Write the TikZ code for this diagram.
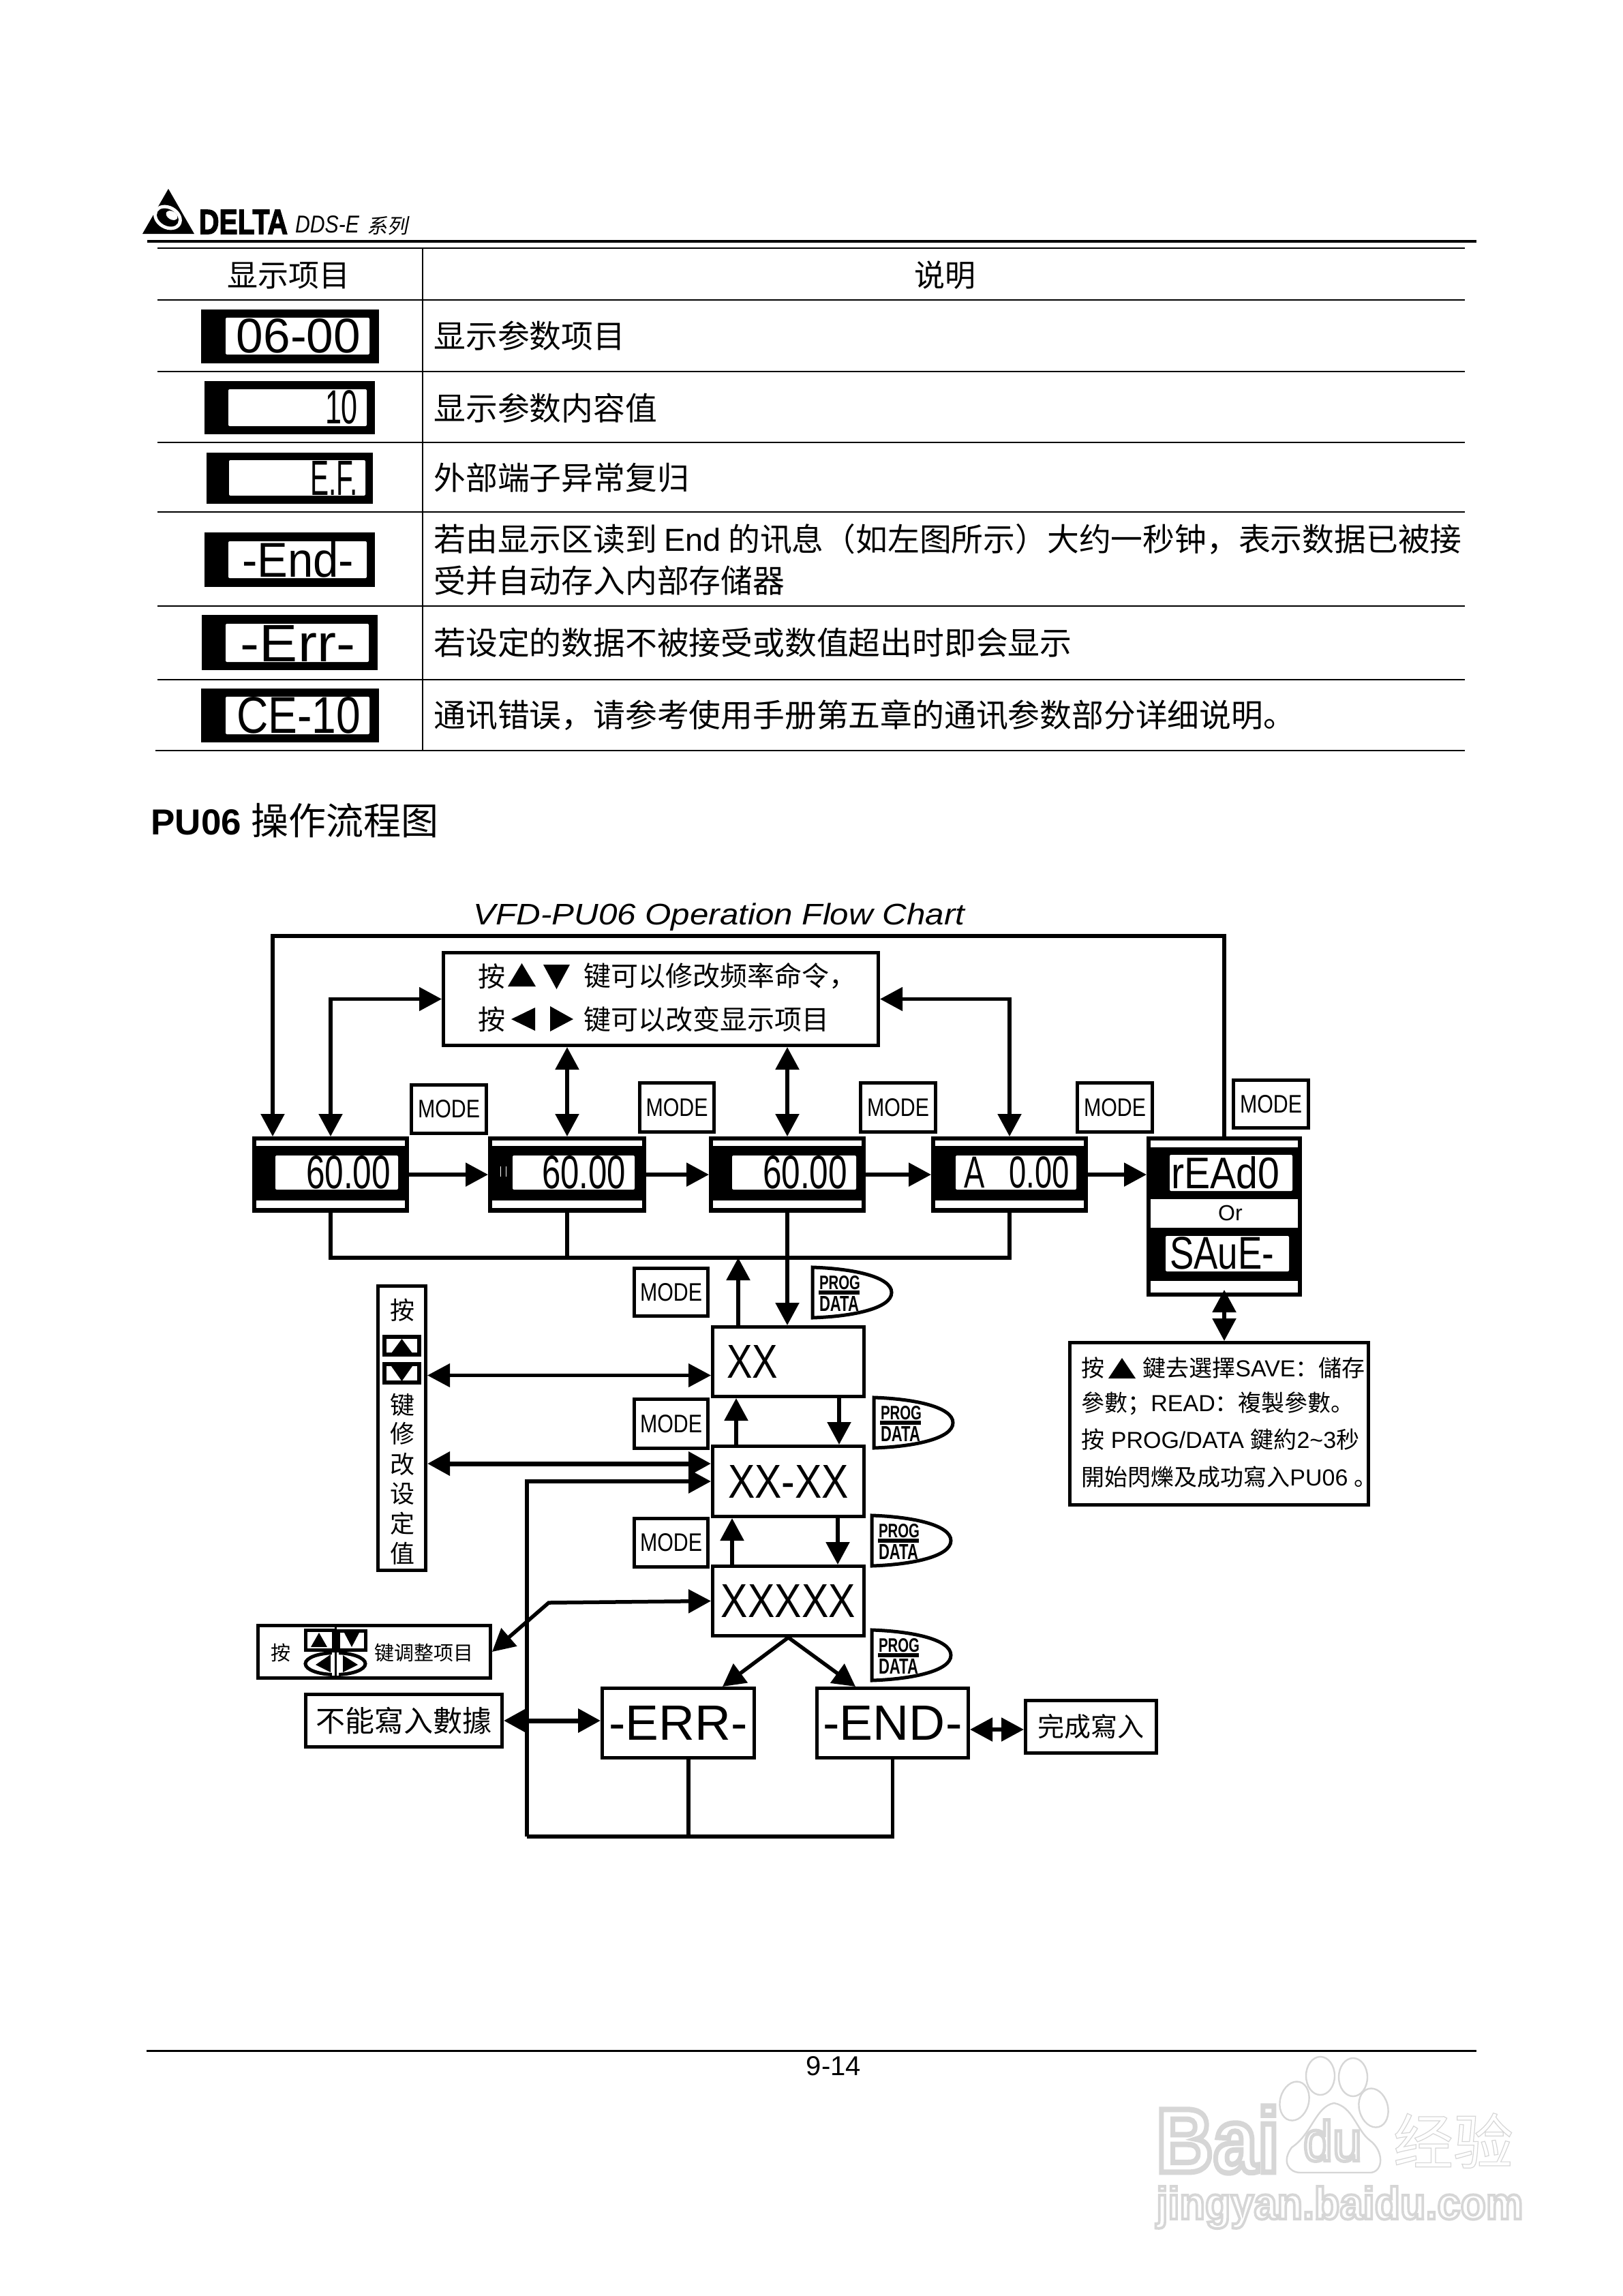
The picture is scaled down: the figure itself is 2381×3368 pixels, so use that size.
\documentclass[tikz,border=0pt]{standalone}
\usepackage{fontspec}
\setmainfont{Liberation Sans}
\newfontfamily\cjk{Noto Sans CJK SC}
\newfontfamily\cjki[FakeSlant=0.2]{Noto Sans CJK SC}
\usetikzlibrary{arrows.meta,calc}
\newcommand\fs[1]{\fontsize{#1}{#1}\selectfont}
\newcommand\cj[1]{{\mdseries\cjk #1}}
% framed box from pixel corners
\newcommand\bxx[7][]{\node[draw=black,line width=2.5pt,fill=white,inner sep=0pt,
  minimum width={(#5-#3-3)*.5pt},minimum height={(#6-#4-3)*.5pt},#1] (#2) at ({(#3+#5)/2},{(#4+#6)/2}) {#7};}
% text forced into a pixel rectangle
\newcommand\rtxt[6]{\pgfmathsetmacro\rw{(#4-#2)*.5}\pgfmathsetmacro\rh{(#5-#3)*.5}%
  \node[inner sep=0pt] (#1) at ({(#2+#4)/2},{(#3+#5)/2}) {\resizebox{\rw pt}{\rh pt}{#6}};}
\newcommand\modebox[5]{\bxx{#1}{#2}{#3}{#4}{#5}{\resizebox{45.5pt}{13pt}{MODE}}}
% black panel with white LCD window
\newcommand\lcdpanel[9]{\bxx[fill=black]{#1}{#2}{#3}{#4}{#5}{}
  \fill[white,rounded corners=1pt] (#6,#7) rectangle (#8,#9);}
% display with top and bottom strip
\newcommand\strips[3]{\fill[white] ([xshift=3pt,yshift=-3pt]#1.north west) rectangle ([xshift=-3pt,yshift=-#2pt]#1.north east);
  \fill[white] ([xshift=3pt,yshift=3.5pt]#1.south west) rectangle ([xshift=-3pt,yshift=#3pt]#1.south east);}
\newcommand\progkey[3]{\begin{scope}[shift={(#2,#3)}]
  \draw[line width=2.5pt,fill=white] (0,0) .. controls (60,2) and (116,14) .. (116,37) .. controls (116,60) and (60,72) .. (0,74) -- cycle;
  \draw[line width=3pt] (9,37) -- (69,37);
  \rtxt{#1a}{10}{13}{70}{33}{\bfseries PROG}
  \rtxt{#1b}{10}{42}{68}{64}{\bfseries DATA}
\end{scope}}
\newcommand\wm[1]{\special{pdf:code 1 Tr 0.84 0.84 0.84 RG 0.6 w}#1\special{pdf:code 0 Tr 0 0 0 RG}}
\tikzset{
  ar/.style={line width=2.75pt,-{Triangle[length=16.5pt,width=17pt]}},
  dar/.style={line width=2.75pt,{Triangle[length=16.5pt,width=17pt]}-{Triangle[length=16.5pt,width=17pt]}},
  ln/.style={line width=2.75pt},
  tbl/.style={line width=1pt},
  hdr/.style={inner sep=0pt,font=\cjk\fs{22.5}},
  cell/.style={anchor=west,inner sep=0pt,font=\cjk\fs{23.4}},
  flow/.style={anchor=west,inner sep=0pt,font=\cjk\fs{20}},
  note/.style={anchor=west,inner sep=0pt,font=\fs{17}},
  vert/.style={inner sep=0pt,font=\cjk\fs{18}},
}
\begin{document}
\begin{tikzpicture}[x=.5pt,y=-.5pt]
\useasboundingbox (0,0) rectangle (2381,3368);
\fill[white] (0,0) rectangle (2381,3368);
% ---------- header
\fill[black] (209,343) -- (247,277) -- (285,343) -- cycle;
\fill[white,rotate around={-30:(246,319)}] (246,319) ellipse (22 and 17);
\fill[black,rotate around={-30:(246,319)}] (246,319) ellipse (17 and 12);
\fill[white,rotate around={-30:(252,316)}] (252,316) ellipse (9 and 6);
\rtxt{logo}{292}{308}{422}{343}{\bfseries\addfontfeature{FakeBold=3}DELTA}
\rtxt{series}{433}{317}{527}{342}{\itshape DDS-E}
\node[anchor=base west,inner sep=0pt] (seriescn) at (538,342) {\fs{15}\cjki 系列};
\draw[line width=2pt] (216,354) -- (2166,354);
% ---------- table
\draw[tbl] (231,364) -- (2149,364);
\draw[tbl] (231,440) -- (2149,440);
\draw[tbl] (231,545) -- (2149,545);
\draw[tbl] (231,649) -- (2149,649);
\draw[tbl] (231,751) -- (2149,751);
\draw[tbl] (231,889) -- (2149,889);
\draw[tbl] (231,997) -- (2149,997);
\draw[tbl] (228,1101) -- (2149,1101);
\draw[tbl] (620,364) -- (620,1101);
\node[hdr] (hdra) at (423,404) {显示项目};
\node[hdr] (hdrb) at (1386,404) {说明};
\lcdpanel{la}{296}{455}{555}{532}{331}{466}{542}{520}
\rtxt{lat}{347}{468}{529}{518}{06-00}
\lcdpanel{lb}{301}{560}{549}{636}{335}{571}{538}{625}
\rtxt{lbt}{477}{573}{525}{622}{10}
\lcdpanel{lc}{304}{665}{546}{738}{336}{675}{536}{727}
\rtxt{lct}{455}{676}{525}{726}{E.F.}
\lcdpanel{ld}{301}{782}{549}{860}{335}{794}{538}{848}
\rtxt{ldt}{355}{795}{519}{847}{-End-}
\lcdpanel{le}{297}{903}{553}{982}{331}{915}{541}{971}
\rtxt{let}{353}{917}{521}{970}{-Err-}
\lcdpanel{lf}{296}{1011}{555}{1088}{331}{1022}{542}{1077}
\rtxt{lft}{347}{1023}{529}{1076}{CE-10}
\node[cell] (ra) at (636,493) {显示参数项目};
\node[cell] (rb) at (636,599) {显示参数内容值};
\node[cell] (rc) at (636,701) {外部端子异常复归};
\node[cell] (rd) at (636,791) {若由显示区读到 {\rmfamily End} 的讯息（如左图所示）大约一秒钟，表示数据已被接};
\node[cell] (re) at (636,852) {受并自动存入内部存储器};
\node[cell] (rf) at (636,943) {若设定的数据不被接受或数值超出时即会显示};
\node[cell] (rg) at (636,1049) {通讯错误，请参考使用手册第五章的通讯参数部分详细说明。};
\node[anchor=base west,inner sep=0pt] (head) at (221,1224) {\fs{26.5}\bfseries PU06 \fs{27.5}\cj{操作流程图}};
% ---------- flow chart title
\node[anchor=base west,inner sep=0pt] (title) at (694,1356) {\resizebox{360.5pt}{15.8pt}{\itshape VFD-PU06 Operation Flow Chart}};
% ---------- hint box
\bxx{tb}{649}{1396}{1290}{1535}{}
\node[flow,anchor=center] (tba) at (721,1432) {按};
\fill (745,1447) -- (765.5,1413) -- (786,1447) -- cycle;
\fill (797,1415) -- (836,1415) -- (816.5,1451) -- cycle;
\node[flow] (tbb) at (856,1432) {键可以修改频率命令，};
\node[flow,anchor=center] (tbc) at (721,1495) {按};
\fill (750,1495) -- (785,1478) -- (785,1512) -- cycle;
\fill (807,1476) -- (841,1495) -- (807,1513) -- cycle;
\node[flow] (tbd) at (856,1495) {键可以改变显示项目};
% ---------- displays
\lcdpanel{da}{371}{1668}{599}{1778}{404}{1695}{584}{1745}
\strips{da}{7}{9}
\rtxt{dat}{449}{1696}{573}{1744}{60.00}
\lcdpanel{db}{717}{1668}{947}{1778}{752}{1695}{931}{1745}
\strips{db}{7}{9}
\draw[white,line width=.5pt] (734,1711) -- (734,1726) (742,1711) -- (742,1726);
\rtxt{dbt}{795}{1696}{918}{1744}{60.00}
\lcdpanel{dc}{1041}{1668}{1269}{1778}{1074}{1695}{1256}{1745}
\strips{dc}{7}{9}
\rtxt{dct}{1119}{1696}{1243}{1744}{60.00}
\lcdpanel{dd}{1367}{1668}{1595}{1778}{1402}{1695}{1579}{1745}
\strips{dd}{7}{9}
\rtxt{ddt}{1414}{1697}{1569}{1743}{A\hspace{.8em}0.00}
\lcdpanel{de}{1683}{1668}{1909}{1901}{1716}{1694}{1896}{1747}
\fill[white] (1688,1673) rectangle (1904,1683);
\fill[white] (1688,1759) rectangle (1904,1801);
\fill[white,rounded corners=1pt] (1710,1813) rectangle (1891,1865);
\fill[white] (1688,1879) rectangle (1904,1896);
\rtxt{det}{1718}{1697}{1877}{1744}{rEAd0}
\node[inner sep=0pt] (deo) at (1805,1779) {\fs{16}Or};
\rtxt{des}{1716}{1815}{1869}{1862}{SAuE-}
% ---------- mode keys
\modebox{ma}{602}{1590}{715}{1664}
\modebox{mb}{937}{1587}{1049}{1662}
\modebox{mc}{1261}{1587}{1374}{1662}
\modebox{md}{1579}{1587}{1692}{1662}
\modebox{me}{1808}{1583}{1921}{1656}
\modebox{mf}{929}{1859}{1040}{1932}
\modebox{mg}{929}{2051}{1040}{2126}
\modebox{mh}{929}{2226}{1040}{2300}
% ---------- parameter boxes
\bxx{xa}{1044}{1945}{1269}{2050}{}
\rtxt{xat}{1066}{1973}{1141}{2021}{XX}
\bxx{xb}{1044}{2120}{1269}{2226}{\resizebox{88.5pt}{24pt}{XX-XX}}
\bxx{xc}{1044}{2296}{1269}{2401}{\resizebox{98.5pt}{24pt}{XXXXX}}
\bxx{err}{882}{2475}{1108}{2580}{\resizebox{101.5pt}{25pt}{-ERR-}}
\bxx{en}{1197}{2475}{1422}{2580}{\resizebox{102pt}{25pt}{-END-}}
\bxx{done}{1503}{2493}{1698}{2573}{\cjk\fs{19.5}完成寫入}
\bxx{nw}{447}{2484}{738}{2564}{\cjk\fs{21.5}不能寫入數據}
% ---------- prog keys
\progkey{pa}{1192}{1859}
\progkey{pb}{1282}{2050}
\progkey{pc}{1279}{2223}
\progkey{pd}{1279}{2391}
% ---------- left vertical box
\bxx{lv}{553}{1885}{626}{2305}{}
\node[vert] (lva) at (590,1922) {按};
\draw[line width=3pt,fill=white] (564,1961) rectangle (615,1987);
\fill (589.5,1964) -- (574,1985) -- (605,1985) -- cycle;
\draw[line width=3pt,fill=white] (564,2001) rectangle (615,2028);
\fill (589.5,2026) -- (574,2004) -- (605,2004) -- cycle;
\node[vert] (lvb) at (590,2061) {键};
\node[vert] (lvc) at (590,2103) {修};
\node[vert] (lvd) at (590,2148) {改};
\node[vert] (lve) at (590,2191) {设};
\node[vert] (lvf) at (590,2235) {定};
\node[vert] (lvg) at (590,2279) {值};
% ---------- key adjust box
\bxx{kb}{377}{2383}{721}{2463}{}
\node[inner sep=0pt,font=\cjk\fs{14.5}] (kba) at (412,2424) {按};
\node[inner sep=0pt,anchor=west,font=\cjk\fs{14.5}] (kbb) at (549,2424) {键调整项目};
\draw[line width=2.5pt] (492,2440.5) ellipse (44 and 16);
\fill[white] (447,2393) rectangle (537,2421);
\draw[line width=2.5pt,fill=white] (448,2391) rectangle (489,2420);
\fill (468,2395) -- (456,2416) -- (480,2416) -- cycle;
\draw[line width=2.5pt,fill=white] (496,2392) rectangle (536,2420);
\fill (516,2416) -- (505,2395) -- (527,2395) -- cycle;
\fill (485,2427) -- (485,2453) -- (463,2442) -- cycle;
\fill (503,2428) -- (503,2453) -- (525,2442) -- cycle;
\draw[white,line width=2pt] (489,2424) -- (489,2458) (495,2424) -- (495,2458);
\draw[line width=1.5pt] (492,2385) -- (492,2462);
% ---------- read/save note
\bxx{rdn}{1568}{1968}{2009}{2209}{}
\node[note] (rna) at (1586,2007) {\cj{按}};
\fill (1626,2022) -- (1646,1992) -- (1666,2022) -- cycle;
\node[note] (rnb) at (1676,2007) {\cj{鍵去選擇}SAVE\cj{：儲存}};
\node[note] (rnc) at (1586,2059) {\cj{參數；}READ\cj{：複製參數。}};
\node[note] (rnd) at (1586,2112) {\cj{按} PROG/DATA \cj{鍵約}2\textasciitilde3\cj{秒}};
\node[note] (rne) at (1586,2167) {\cj{開始閃爍及成功寫入}PU06 \cj{。}};
% ---------- connectors
\coordinate (topl) at (400,1373);
\coordinate (busy) at (0,1845);
\coordinate (ret) at (773,2694);
\coordinate (knee) at (805,2351);
\draw[ar] (de.north) |- (topl) -- (topl |- da.north);
\draw[dar] (da.north) |- (tb.west);
\draw[dar] (db.north) -- (db.north |- tb.south);
\draw[dar] (dc.north) -- (dc.north |- tb.south);
\draw[dar] (dd.north) |- (tb.east);
\draw[ar] (da.east) -- (db.west);
\draw[ar] (db.east) -- (dc.west);
\draw[ar] (dc.east) -- (dd.west);
\draw[ar] (dd.east) -- (dd.east -| de.west);
\draw[ln] (da.south) |- (dd.south |- busy) -- (dd.south);
\draw[ln] (db.south) -- (db.south |- busy);
\draw[ar] (dc.south) -- (dc.south |- xa.north);
\draw[ar] ([xshift=-36.75pt]xa.north) -- ([xshift=-36.75pt]xa.north |- busy);
\draw[ar] ([xshift=-38.25pt]xb.north) -- ([xshift=-38.25pt]xa.south);
\draw[ar] ([xshift=37.25pt]xa.south) -- ([xshift=37.25pt]xb.north);
\draw[ar] ([xshift=-41.25pt]xc.north) -- ([xshift=-41.25pt]xb.south);
\draw[ar] ([xshift=36.25pt]xb.south) -- ([xshift=36.25pt]xc.north);
\coordinate (lina) at ([yshift=-10pt]xa.west);
\coordinate (linb) at ([yshift=13pt]xb.west);
\draw[dar,line width=2.25pt] (lv.east |- lina) -- (lina);
\draw[dar,line width=3.5pt] (lv.east |- linb) -- (linb);
\draw[ar,line width=3pt] (ret) -- (ret |- xb.west) -- (xb.west);
\draw[ln] (ret) -| (en.south);
\draw[ln] ([xshift=7.5pt]err.south) -- ([xshift=7.5pt]err.south |- ret);
\draw[dar,line width=3.5pt] (nw.east) -- (nw.east -| err.west);
\draw[dar] (kb.east) -- (knee) -- (xc.west);
\draw[ar] (xc.south) -- ([xshift=32.5pt]err.north);
\draw[ar] (xc.south) -- ([xshift=-27.25pt]en.north);
\draw[dar] ([yshift=-2pt]done.west) -- ([yshift=-2pt]done.west -| en.east);
\draw[dar] ([yshift=5pt]de.south) -- (de.south |- rdn.north);
% ---------- footer
\draw[line width=1.5pt] (215,3008) -- (2166,3008);
\node[inner sep=0pt] (page) at (1223,3031) {\fs{20}9-14};
% ---------- watermark
\begin{scope}[draw=black!16,line width=1.2pt]
\draw[rotate around={-15:(1899,3082)}] (1899,3082) ellipse (21 and 29);
\draw (1937,3045) ellipse (21 and 28);
\draw (1985,3047) ellipse (21 and 28);
\draw[rotate around={15:(2015,3092)}] (2015,3092) ellipse (21 and 29);
\draw (1957,3085) .. controls (1930,3090) and (1925,3130) .. (1895,3150) .. controls (1880,3170) and (1890,3187) .. (1908,3187) .. controls (1930,3187) and (1985,3187) .. (2011,3187) .. controls (2030,3185) and (2030,3155) .. (2010,3140) .. controls (1990,3125) and (1985,3090) .. (1957,3085) -- cycle;
\end{scope}
\rtxt{wba}{1696}{3090}{1877}{3187}{\wm{\bfseries Bai}}
\rtxt{wdu}{1912}{3110}{1998}{3170}{\wm{du}}
\node[inner sep=0pt] (wjy) at (2132,3140) {\fs{44}\wm{\cj{经验}}};
\node[inner sep=0pt,anchor=base west] (wur) at (1696,3255) {\resizebox{269pt}{24pt}{\wm{\bfseries jingyan.baidu.com}}};
\end{tikzpicture}
\end{document}
